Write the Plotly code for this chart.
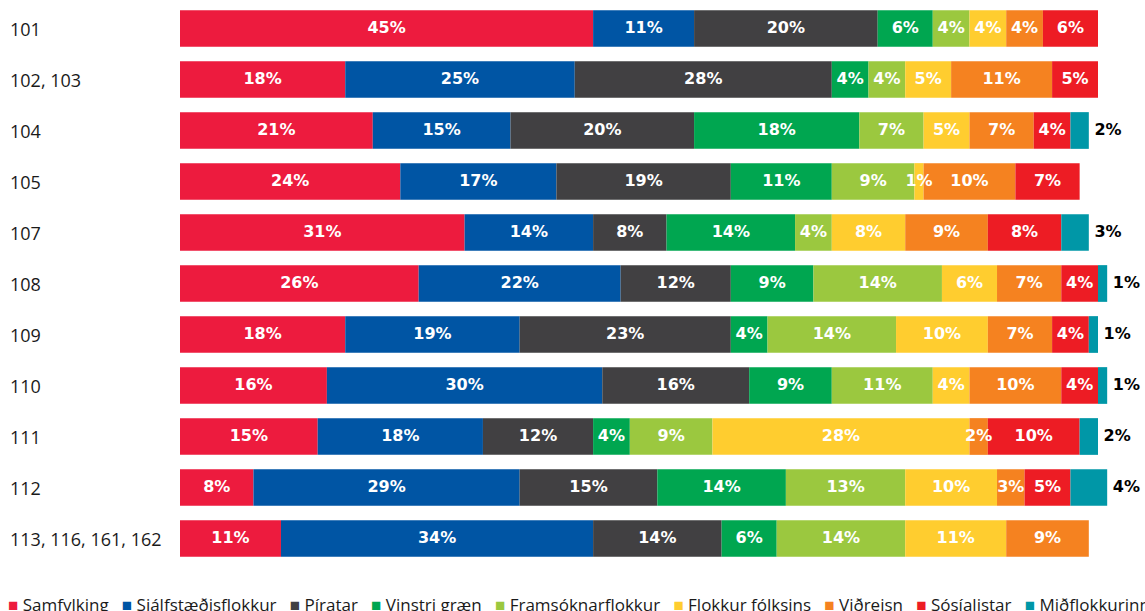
import plotly.graph_objects as go

categories = ["101", "102, 103", "104", "105", "107", "108", "109", "110", "111", "112", "113, 116, 161, 162"]

parties = ["Samfylking", "Sjálfstæðisflokkur", "Píratar", "Vinstri græn", "Framsóknarflokkur",
           "Flokkur fólksins", "Viðreisn", "Sósíalistar", "Miðflokkurinn"]

colors = ["#ED1B3E", "#0055A4", "#414042", "#00A650", "#9BC83F",
          "#FFCD2F", "#F58220", "#ED1C24", "#0097A7"]

samfylking         = [45, 18, 21, 24, 31, 26, 18, 16, 15, 8, 11]
sjalfstaedisflokkur = [11, 25, 15, 17, 14, 22, 19, 30, 18, 29, 34]
piratar            = [20, 28, 20, 19, 8, 12, 23, 16, 12, 15, 14]
vinstri_graen      = [6, 4, 18, 11, 14, 9, 4, 9, 4, 14, 6]
framsoknarflokkur  = [4, 4, 7, 9, 4, 14, 14, 11, 9, 13, 14]
flokkur_folksins   = [4, 5, 5, 1, 8, 6, 10, 4, 28, 10, 11]
vidreisn           = [4, 11, 7, 10, 9, 7, 7, 10, 2, 3, 9]
sosialistar        = [6, 5, 4, 7, 8, 4, 4, 4, 10, 5, 0]
midflokkurinn      = [0, 0, 2, 0, 3, 1, 1, 1, 2, 4, 0]

series = [samfylking, sjalfstaedisflokkur, piratar, vinstri_graen, framsoknarflokkur,
          flokkur_folksins, vidreisn, sosialistar, midflokkurinn]

FONT_LBL = "DejaVu Sans"
FONT_TXT = "Open Sans"
fig = go.Figure()

n = len(categories)
base = [0] * n
in_x, in_y, in_t = [], [], []
out_x, out_y, out_t = [], [], []
for pi, (name, vals, col) in enumerate(zip(parties, series, colors)):
    fig.add_trace(go.Bar(
        y=categories, x=[v if v else None for v in vals], base=base[:],
        orientation="h", name=name, marker=dict(color=col, line=dict(width=0)),
        showlegend=False, hoverinfo="skip",
    ))
    for i, v in enumerate(vals):
        if v:
            if pi == len(parties) - 1:
                out_x.append(base[i] + v)
                out_y.append(categories[i])
                out_t.append(f"\u00a0{v}%")
            else:
                in_x.append(base[i] + v / 2)
                in_y.append(categories[i])
                in_t.append(f"{v}%")
    base = [b + v for b, v in zip(base, vals)]

fig.add_trace(go.Scatter(
    x=in_x, y=in_y, text=in_t, mode="text", textposition="middle center",
    textfont=dict(family=FONT_LBL, size=16, color="white", weight="bold"),
    showlegend=False, hoverinfo="skip", cliponaxis=False,
))
fig.add_trace(go.Scatter(
    x=out_x, y=out_y, text=out_t, mode="text", textposition="middle right",
    textfont=dict(family=FONT_LBL, size=16, color="black", weight="bold"),
    showlegend=False, hoverinfo="skip", cliponaxis=False,
))

W, H = 1145, 611
ml, mr, mt, mb = 180, 27, 3, 47
pw = W - ml - mr
ph = H - mt - mb

# category labels, left-aligned (placed by category index)
annotations = []
for i, c in enumerate(categories):
    annotations.append(dict(
        x=-(ml - 8) / pw, xref="paper", y=i, yref="y", text=c, showarrow=False,
        xanchor="left", yanchor="middle",
        font=dict(family=FONT_TXT, size=18, color="#1a1a1a"),
    ))

# legend as a single text line (overflows the right edge like the original)
legend_text = "&nbsp;&nbsp;&nbsp;".join(
    f"<span style='color:{c};font-size:17px'>■</span>&nbsp;{p}" for p, c in zip(parties, colors)
)
annotations.append(dict(
    x=-(ml - 6) / pw, xref="paper", y=-(604 - (mt + ph)) / ph, yref="paper",
    text=legend_text, showarrow=False, xanchor="left", yanchor="middle",
    font=dict(family=FONT_TXT, size=17, color="#1a1a1a"),
))

fig.update_layout(
    width=W, height=H,
    margin=dict(l=ml, r=mr, t=mt, b=mb),
    barmode="overlay", bargap=0.28,
    plot_bgcolor="white", paper_bgcolor="white",
    xaxis=dict(range=[0, pw / 9.18], visible=False, fixedrange=True),
    yaxis=dict(type="category", categoryorder="array", categoryarray=categories,
               range=[n - 0.5, -0.5], autorange=False, showticklabels=False,
               showgrid=False, zeroline=False, showline=False),
    annotations=annotations,
    showlegend=False,
)

fig.write_html("out.html", config={"displayModeBar": False},
               post_script="document.body.style.margin='0';")
